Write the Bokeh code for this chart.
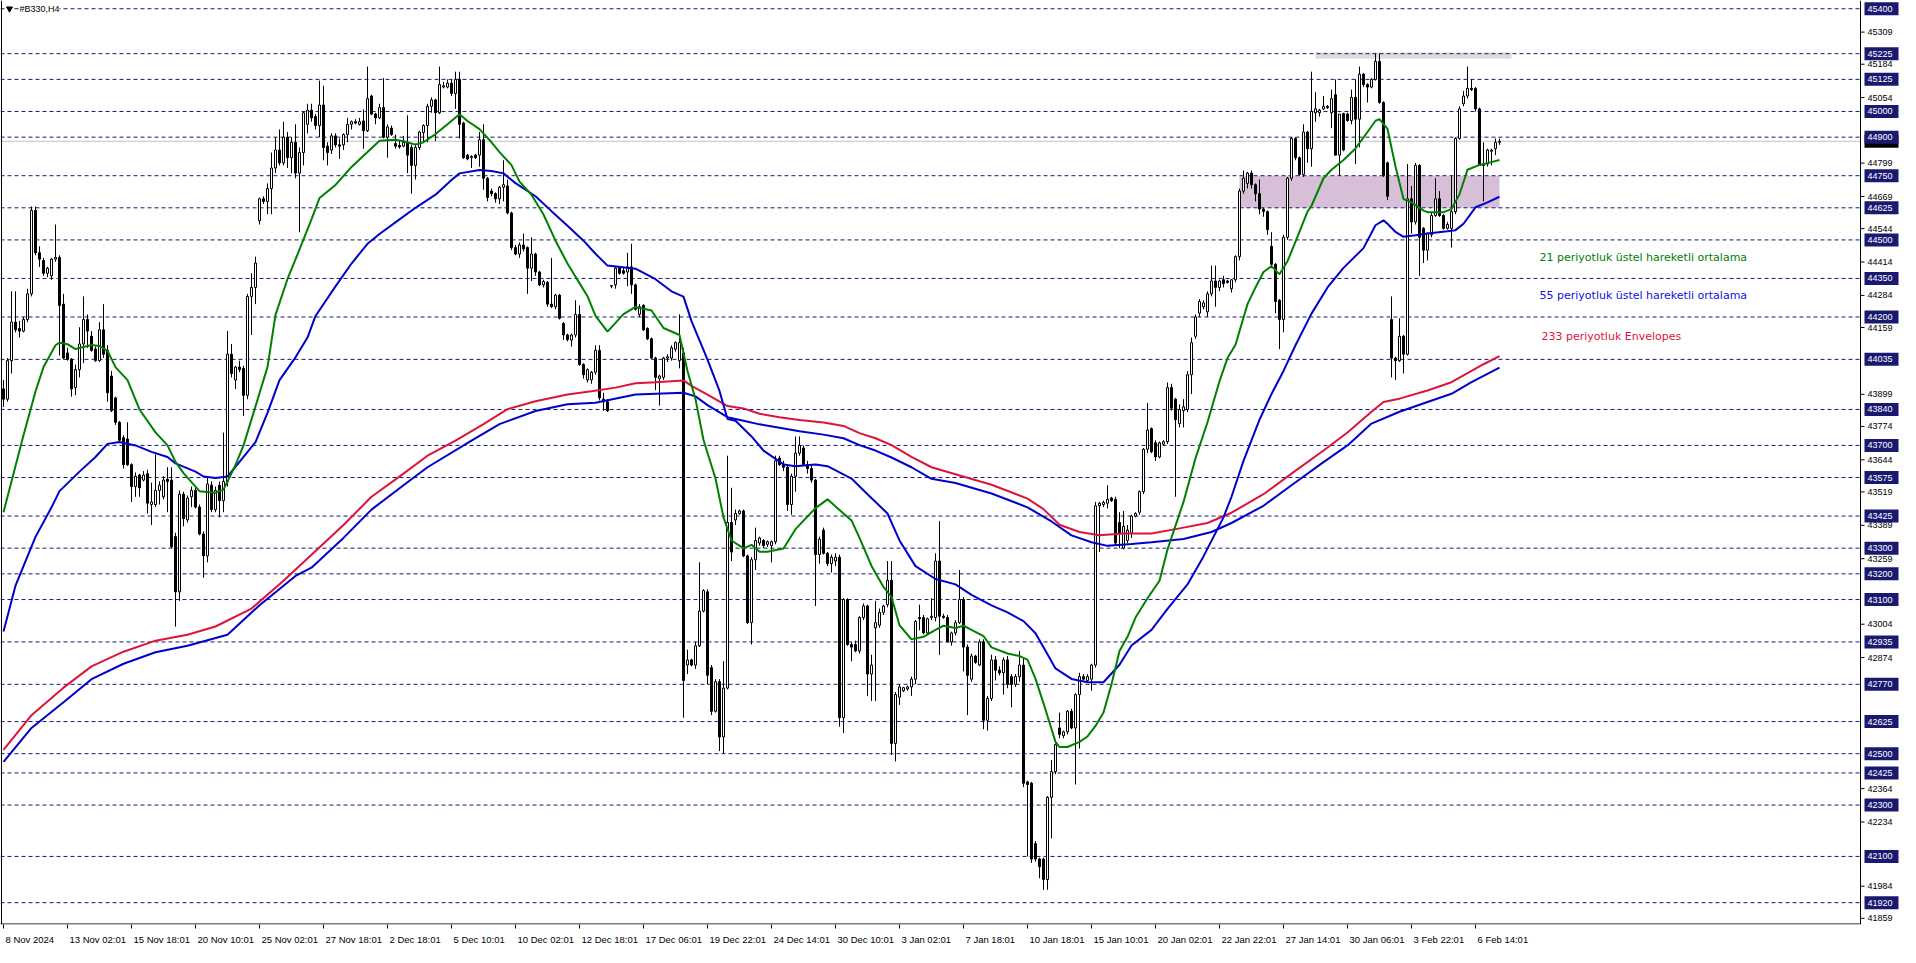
import numpy as np
from bokeh.plotting import figure
from bokeh.models import Range1d, FixedTicker, Label
from bokeh.embed import file_html
from bokeh.resources import INLINE
from bokeh.core.properties import value

# ---------------- data (H4 candles) ----------------
opens = [
    43920,43880,44030,44180,44155,44145,44190,44290,44615,44450,
    44420,44370,44360,44425,44432,44250,44060,44035,43925,43995,
    44095,44190,44125,44075,44030,44150,44070,43970,43885,43790,
    43730,43725,43625,43540,43585,43565,43590,43470,43470,43525,
    43500,43568,43565,43345,43130,43510,43410,43500,43525,43460,
    43355,43270,43545,43450,43545,43485,43560,44055,43955,44005,
    44000,43895,44280,44315,44575,44660,44650,44700,44780,44850,
    44800,44900,44820,44880,44760,44840,44950,45005,44980,44945,
    45025,44865,44850,44905,44870,44870,44910,44950,44960,44950,
    44963,44925,45060,44990,44975,45015,44900,44935,44875,44868,
    44865,44880,44860,44790,44860,44918,44945,45020,45045,44995,
    45095,45095,45110,45070,45125,44955,44830,44820,44830,44830,
    44890,44740,44690,44680,44660,44705,44710,44605,44470,44445,
    44480,44470,44390,44445,44375,44325,44335,44250,44240,44285,
    44175,44130,44110,44130,44210,44015,43955,43955,43985,44070,
    43880,43870,44320,44325,44390,44380,44375,44395,44325,44210,
    44245,44155,44115,44040,43960,43965,44040,44040,44075,44030,
    44060,42845,42865,42845,42920,43055,43130,42835,42665,42780,
    42565,42755,43400,43410,43435,43445,43270,43010,43255,43320,
    43330,43315,43310,43325,43650,43628,43615,43470,43580,43670,
    43690,43625,43610,43565,43275,43370,43280,43240,43250,43265,
    42640,43100,42925,42925,42900,43030,43075,42810,42990,43000,
    43050,43080,43175,42540,42720,42745,42752,42760,42790,43030,
    43030,42970,43030,43030,43250,43035,43030,42935,42970,43010,
    43100,42915,42790,42880,42845,42935,42630,42715,42865,42825,
    42815,42865,42800,42770,42800,42845,42390,42385,42150,42090,
    42090,42010,42330,42430,42600,42570,42585,42665,42600,42730,
    42800,42785,42790,42845,43465,43470,43475,43495,43490,43400,
    43300,43330,43360,43425,43440,43520,43685,43765,43710,43655,
    43705,43715,43925,43880,43785,43835,43840,43975,44125,44215,
    44240,44220,44290,44340,44315,44345,44340,44310,44345,44435,
    44690,44720,44760,44715,44680,44620,44610,44475,44405,44265,
    44190,44510,44740,44895,44820,44755,44920,44855,44995,44995,
    45010,45020,44995,45065,44830,44992,44990,44965,45055,44970,
    45145,45105,45095,45125,45195,45035,44800,44190,44040,44030,
    44125,44055,44660,44570,44790,44545,44460,44520,44595,44660,
    44595,44545,44545,44610,44895,45030,45060,45090,45090,45010,
    44795,44795,44845,44855,44880,
]
highs = [
    43955,44040,44300,44300,44185,44200,44310,44630,44630,44475,
    44430,44395,44430,44560,44440,44290,44080,44040,44015,44160,
    44280,44210,44145,44085,44180,44250,44090,43990,43890,43795,
    43740,43790,43630,43595,43590,43600,43605,43555,43665,43560,
    43580,43615,43615,43360,43525,43520,43505,43540,43540,43470,
    43365,43575,43560,43540,43560,43750,44145,44095,44010,44030,
    44010,44290,44370,44435,44665,44670,44720,44840,44900,44930,
    44960,44920,44900,44950,44860,45000,45030,45030,44990,45120,
    45100,44880,44915,44915,44895,44915,44975,44965,44970,44975,
    45008,45175,45065,44995,45030,45130,44950,44945,44910,44885,
    44905,44985,44870,44875,44925,44950,45030,45055,45050,45175,
    45115,45125,45125,45155,45155,44960,44835,44830,44835,44920,
    44950,44745,44700,44685,44710,44810,44735,44610,44480,44490,
    44525,44475,44510,44450,44380,44345,44340,44430,44290,44290,
    44180,44135,44135,44265,44245,44020,44000,43990,44090,44090,
    43905,43880,44325,44395,44395,44390,44450,44485,44330,44250,
    44250,44160,44120,44045,43975,44045,44055,44090,44105,44210,
    44080,42905,42870,42935,43245,43140,43140,42845,42790,42790,
    42860,43660,43535,43450,43450,43450,43275,43265,43380,43345,
    43335,43330,43330,43660,43660,43640,43620,43590,43735,43735,
    43700,43640,43620,43570,43345,43380,43285,43275,43280,43275,
    43105,43105,42935,42940,43035,43085,43080,42885,43095,43065,
    43080,43250,43250,42740,42770,42760,42765,42800,43020,43080,
    43040,43030,43105,43280,43405,43045,43040,42975,43020,43215,
    43110,42925,42890,42885,42945,42945,42725,42885,42880,42840,
    42875,42880,42810,42810,42900,42870,42395,42390,42160,42095,
    42095,42335,42475,42540,42660,42590,42670,42675,42735,42815,
    42810,42810,42850,43480,43480,43485,43545,43500,43500,43440,
    43445,43390,43430,43440,43525,43690,43865,43770,43720,43715,
    43720,43945,43940,43885,43860,43880,43990,44120,44210,44270,
    44265,44300,44400,44400,44345,44360,44345,44345,44440,44700,
    44770,44765,44770,44720,44735,44625,44615,44530,44410,44270,
    44520,44745,44900,44900,44825,44950,44925,45155,45075,45010,
    45060,45025,45085,45125,44990,44995,44995,45085,45125,45175,
    45150,45110,45130,45225,45225,45040,44805,44280,44045,44195,
    44130,44795,44710,44800,44795,44550,44530,44605,44740,44690,
    44600,44570,44750,44900,45020,45080,45175,45125,45095,45015,
    44880,44855,44855,44895,44895,
]
lows = [
    43850,43870,43980,44140,44120,44140,44180,44280,44440,44395,
    44360,44355,44345,44415,44050,44035,44030,43890,43895,43965,
    44020,44080,44065,44025,44025,44040,43870,43830,43780,43710,
    43610,43620,43480,43500,43500,43560,43435,43390,43460,43470,
    43490,43440,43300,42995,43095,43385,43400,43460,43455,43350,
    43185,43245,43440,43440,43420,43440,43540,43965,43920,43985,
    43815,43880,44130,44250,44560,44640,44600,44600,44760,44790,
    44790,44780,44760,44740,44530,44790,44915,44960,44930,44900,
    44810,44790,44835,44860,44815,44850,44880,44930,44950,44945,
    44855,44920,44985,44950,44970,44895,44820,44905,44855,44855,
    44860,44760,44680,44735,44850,44880,44880,44995,44885,44990,
    45090,45090,45060,45010,44895,44815,44810,44780,44815,44785,
    44695,44650,44670,44645,44640,44650,44600,44460,44440,44430,
    44455,44290,44340,44360,44320,44315,44240,44235,44230,44190,
    44110,44105,44085,44120,44010,43960,43945,43940,43975,43875,
    43835,43830,44312,44310,44365,44365,44320,44290,44225,44200,
    44145,44110,44035,43915,43855,43955,44025,44030,44065,44000,
    42640,42810,42840,42830,42915,43050,42770,42650,42660,42510,
    42500,42750,43250,43390,43430,43265,43005,42925,43215,43310,
    43300,43305,43245,43315,43620,43600,43445,43430,43520,43660,
    43620,43590,43555,43075,43240,43275,43230,43205,43230,42605,
    42580,42920,42860,42895,42890,43020,42725,42705,42705,42990,
    43040,43070,42495,42470,42690,42740,42745,42725,42770,42980,
    42965,42965,43020,43015,42885,43025,42935,42920,42960,43005,
    42820,42650,42780,42850,42840,42595,42590,42705,42785,42805,
    42730,42755,42680,42760,42780,42370,42100,42075,42080,42015,
    41970,41970,42170,42420,42560,42560,42575,42595,42380,42520,
    42785,42775,42745,42835,43285,43460,43455,43480,43310,43300,
    43295,43320,43340,43420,43430,43510,43670,43670,43640,43650,
    43700,43705,43835,43500,43770,43770,43830,43900,44115,44200,
    44230,44200,44280,44240,44300,44315,44330,44295,44335,44420,
    44680,44700,44700,44650,44600,44590,44520,44390,44215,44075,
    44140,44500,44730,44810,44750,44745,44800,44785,44960,44980,
    45005,45010,44935,44830,44750,44845,44960,44950,44795,44860,
    45095,45035,45090,45120,45030,44745,44655,43965,43955,44025,
    43980,44050,44525,44560,44360,44410,44420,44510,44590,44590,
    44540,44540,44470,44600,44890,45020,45050,45080,45000,44790,
    44650,44785,44790,44830,44870,
]
closes = [
    43880,44030,44180,44150,44145,44190,44290,44615,44450,44425,
    44370,44390,44425,44432,44245,44040,44035,43920,43995,44095,
    44190,44145,44070,44030,44150,44055,43905,43835,43790,43720,
    43625,43625,43540,43580,43535,43585,43475,43480,43525,43545,
    43565,43560,43305,43130,43510,43415,43495,43525,43460,43355,
    43270,43550,43450,43525,43485,43560,44055,43980,44005,43995,
    43895,44280,44315,44410,44660,44650,44700,44780,44850,44800,
    44900,44820,44880,44760,44840,44995,45005,44975,44945,45025,
    44860,44840,44905,44870,44865,44910,44950,44960,44955,44960,
    44925,45050,44990,44975,45015,44900,44940,44910,44865,44862,
    44880,44830,44790,44860,44920,44945,45020,45045,44995,45105,
    45100,45110,45070,45125,44950,44820,44815,44825,44820,44890,
    44740,44665,44680,44660,44705,44715,44605,44470,44445,44480,
    44465,44390,44445,44375,44325,44338,44250,44240,44285,44195,
    44130,44112,44130,44210,44015,43975,43995,43985,44070,43885,
    43870,43835,44322,44390,44370,44370,44395,44325,44230,44240,
    44150,44115,44040,43965,43970,44040,44045,44080,44100,44100,
    42785,42865,42845,42920,43055,43135,42805,42665,42780,42565,
    42755,43400,43285,43435,43445,43270,43010,43255,43330,43340,
    43310,43325,43325,43640,43625,43615,43470,43580,43670,43700,
    43625,43610,43565,43275,43335,43280,43240,43265,43265,42640,
    43100,42925,42915,42900,43030,43075,42810,42845,43010,43050,
    43075,43175,42540,42730,42760,42757,42760,42790,43015,43025,
    42970,43025,43035,43250,43035,43030,42935,42970,43010,43100,
    42915,42805,42880,42855,42935,42630,42715,42865,42825,42815,
    42865,42770,42770,42800,42845,42385,42380,42090,42090,42060,
    42010,42330,42430,42535,42575,42585,42665,42600,42730,42800,
    42790,42800,42845,43465,43475,43478,43490,43485,43320,43355,
    43385,43370,43425,43435,43520,43685,43760,43675,43655,43710,
    43715,43925,43845,43800,43840,43850,43975,44100,44200,44260,
    44255,44290,44340,44315,44340,44330,44335,44345,44435,44690,
    44740,44760,44715,44680,44620,44610,44540,44405,44260,44190,
    44510,44740,44895,44820,44755,44920,44855,45000,45010,45005,
    45020,45015,45050,44830,44990,44850,44965,45055,44970,45145,
    45105,45095,45125,45195,45035,44750,44670,44040,44030,44125,
    44055,44660,44570,44790,44510,44460,44525,44595,44660,44595,
    44545,44560,44610,44895,45010,45060,45090,45085,45010,44790,
    44790,44850,44850,44880,44884,
]

# 21-period EMA (green), read at bar indices
ema21_idx = [0,3,5,8,10,13,14,16,18,22,24,26,28,31,34,38,41,43,45,49,53,55,58,60,63,66,68,71,73,77,
             79,83,87,91,94,98,100,103,105,108,111,114,116,119,122,124,127,129,132,135,138,141,143,146,148,151,
             155,158,162,165,169,171,173,175,178,180,182,185,187,189,191,195,198,203,206,209,212,214,217,220,222,
             224,227,230,233,235,238,240,242,245,247,251,254,256,258,260,263,264,266,269,271,273,275,277,279,281,
             283,286,289,291,295,298,301,304,306,308,311,313,315,317,319,321,323,326,327,330,332,335,338,341,343,
             344,346,348,350,352,355,356,360,362,364,366,369,371,374]
ema21_val = [43440,43620,43740,43910,44005,44090,44100,44094,44075,44091,44087,44068,44005,43954,43840,43751,43700,43636,43592,43522,43516,43528,43624,43700,43852,44005,44208,44348,44424,44580,
             44663,44714,44784,44842,44886,44890,44884,44871,44880,44912,44950,44989,44963,44931,44880,44842,44791,44727,44676,44599,44497,44408,44357,44281,44204,44143,
             44211,44239,44225,44157,44130,43990,43880,43721,43571,43420,43330,43299,43313,43286,43286,43299,43374,43456,43490,43449,43408,43340,43231,43149,43110,
             43000,42945,42955,42982,42998,42989,42998,42982,42958,42914,42890,42880,42866,42791,42696,42546,42526,42526,42546,42567,42608,42660,42770,42900,42955,
             43030,43105,43173,43295,43480,43650,43790,43950,44040,44092,44250,44315,44375,44398,44366,44417,44493,44610,44633,44740,44773,44811,44856,44920,44964,
             44970,44932,44786,44659,44646,44614,44608,44608,44620,44678,44773,44792,44799,44811]

# 55-period EMA (blue)
ema55_idx = [0,3,8,12,14,19,23,26,29,33,37,41,43,48,50,53,56,59,63,66,69,73,76,78,83,87,91,94,99,103,
             108,112,114,119,122,125,128,133,137,141,145,148,151,158,163,167,170,172,176,179,181,183,187,190,195,
             198,203,206,212,216,221,224,228,233,238,242,247,251,255,258,261,263,267,271,275,279,282,287,291,296,
             300,305,307,310,314,317,320,323,327,331,335,340,343,345,346,348,350,353,356,361,363,365,368,371,374]
ema55_val = [42976,43154,43344,43459,43522,43598,43655,43706,43713,43700,43675,43655,43630,43598,43579,43573,43579,43636,43713,43827,43954,44043,44120,44204,44319,44408,44485,44523,44580,44625,
             44676,44733,44759,44772,44768,44759,44721,44670,44612,44555,44497,44446,44400,44388,44347,44300,44279,44184,44034,43912,43803,43796,43735,43680,43626,
             43619,43626,43619,43571,43510,43435,43330,43230,43180,43159,43118,43077,43050,43016,42969,42887,42832,42791,42778,42778,42846,42921,42982,43064,43159,
             43268,43420,43500,43640,43800,43900,43990,44090,44213,44315,44391,44468,44557,44576,44563,44531,44512,44518,44525,44534,44538,44563,44627,44646,44668]

# 233-period Envelopes: upper (red) and lower (blue)
env_up_idx = [0,7,15,22,30,38,46,53,62,70,77,85,92,100,106,113,120,126,133,141,147,153,158,163,170,172,176,181,185,189,
              194,199,205,210,214,218,222,227,232,238,247,256,260,264,269,274,280,287,294,301,307,315,322,330,336,342,345,349,356,362,
              367,370,374]
env_up_val = [42515,42650,42757,42840,42897,42940,42963,42995,43065,43173,43274,43390,43500,43590,43660,43719,43783,43841,43872,43898,43911,43925,43942,43946,43953,43932,43898,43853,43844,43823,
              43810,43799,43789,43776,43748,43728,43701,43655,43615,43588,43547,43493,43452,43391,43363,43350,43357,43357,43377,43398,43438,43510,43590,43680,43750,43831,43869,43882,43914,43946,
              43990,44016,44048]
env_dn_idx = [0,7,15,22,30,38,46,56,64,73,77,85,92,100,106,117,124,133,141,148,158,170,173,176,181,185,189,194,199,205,
              210,214,218,222,227,232,238,247,256,262,267,272,276,282,287,295,302,307,315,322,330,336,342,349,356,362,367,374]
env_dn_val = [42468,42600,42700,42790,42850,42895,42920,42963,43078,43192,43224,43340,43450,43545,43615,43719,43783,43834,43860,43866,43898,43905,43891,43857,43810,43796,43782,43769,43755,43742,
              43728,43701,43680,43653,43615,43570,43554,43513,43459,43404,43350,43323,43309,43316,43323,43336,43363,43398,43465,43545,43635,43700,43785,43831,43869,43901,43946,44003]

# horizontal levels (drawn lines, labelled on the price scale)
level_values = [45400,45225,45125,45000,44900,44750,44625,44500,44350,44200,44035,43840,43700,43575,
                43425,43300,43200,43100,42935,42770,42625,42500,42425,42300,42100,41920]
# automatic price-scale ticks
axis_ticks = [45309,45184,45054,44799,44669,44544,44414,44284,44159,43899,43774,43644,43519,
              43389,43259,43004,42874,42364,42234,41984,41859]
# time-scale labels (every 16 bars)
tick_labels = ["8 Nov 2024","13 Nov 02:01","15 Nov 18:01","20 Nov 10:01","25 Nov 02:01","27 Nov 18:01",
               "2 Dec 18:01","5 Dec 10:01","10 Dec 02:01","12 Dec 18:01","17 Dec 06:01","19 Dec 22:01",
               "24 Dec 14:01","30 Dec 10:01","3 Jan 02:01","7 Jan 18:01","10 Jan 18:01","15 Jan 10:01",
               "20 Jan 02:01","22 Jan 22:01","27 Jan 14:01","30 Jan 06:01","3 Feb 22:01","6 Feb 14:01"]
tick_idx = [16 * k for k in range(len(tick_labels))]

# zones
zone_left, zone_right, zone_low, zone_high = 309, 374, 44625, 44750
top_left, top_right, top_low, top_high = 328, 377, 45205, 45230

legend_texts = ["21 periyotluk üstel hareketli ortalama",
                "55 periyotluk üstel hareketli ortalama",
                "233 periyotluk Envelopes"]
legend_colors = ["#008000", "#1010E0", "#DC143C"]
legend_y = [44432, 44283, 44125]
legend_x = [384, 384, 384.5]

title_text = "#B330,H4"

# ---------------- layout constants ----------------
N = len(closes)
assert len(opens) == N and len(highs) == N and len(lows) == N, (len(opens), len(highs), len(lows), N)

NAVY = "#191970"
W, H = 1900, 947
BOTTOM = 22                 # height of the time scale
FRAME_W = W                 # chart + price scale share the frame
CHART_W = 1860              # chart part (price scale to the right)
PX_BAR = 4.0                # pixels per H4 bar
X0 = -0.75
X_END = X0 + FRAME_W / PX_BAR
CHART_END = X0 + CHART_W / PX_BAR
Y0, Y1 = 41835, 45432
AXIS_FONT = "Liberation Sans"

p = figure(width=W, height=H, output_backend="svg", toolbar_location=None,
           x_range=Range1d(X0, X_END), y_range=Range1d(Y0, Y1), y_axis_location=None,
           min_border_left=0, min_border_top=0, min_border_right=0, min_border_bottom=BOTTOM,
           background_fill_color="white", border_fill_color="white")
p.grid.visible = False
p.outline_line_color = None

# zones (background)
p.quad(left=[zone_left], right=[zone_right], bottom=[zone_low], top=[zone_high],
       fill_color="#D8BFD8", line_color=None)
p.quad(left=[top_left], right=[top_right], bottom=[top_low], top=[top_high],
       fill_color="#DCDCDC", line_color=None)

# level lines (end at the price scale)
nlev = len(level_values)
p.segment(x0=[X0] * nlev, x1=[CHART_END] * nlev, y0=level_values, y1=level_values,
          line_color=NAVY, line_width=1, line_dash="4 3")
# bid line
p.segment(x0=[X0], x1=[CHART_END], y0=[closes[-1]], y1=[closes[-1]], line_color="#C0C0C0", line_width=1)

# candles
idx = np.arange(N)
o = np.array(opens, dtype=float); c = np.array(closes, dtype=float)
h = np.array(highs, dtype=float); l = np.array(lows, dtype=float)
up = c >= o
p.segment(idx, h, idx, l, line_color="black", line_width=1)
p.vbar(x=idx[up], width=0.5, bottom=o[up], top=c[up], fill_color="white", line_color="black", line_width=1)
p.vbar(x=idx[~up], width=0.5, bottom=c[~up], top=o[~up], fill_color="black", line_color="black", line_width=1)

# indicators
p.line(env_up_idx, env_up_val, line_color="#DC143C", line_width=2)
p.line(env_dn_idx, env_dn_val, line_color="#0000CD", line_width=2)
p.line(ema55_idx, ema55_val, line_color="#0000CD", line_width=2)
p.line(ema21_idx, ema21_val, line_color="#008000", line_width=2)

# indicator captions
p.text(x=legend_x, y=legend_y, text=legend_texts, text_color=legend_colors,
       text_font=value("DejaVu Sans"), text_font_size="11px", text_baseline="middle", text_align="left")

# title
p.scatter([1.5], [level_values[0]], marker="inverted_triangle", size=6, color="black")
p.add_layout(Label(x=4.0, y=level_values[0], text=title_text, text_font=AXIS_FONT,
                   text_font_size="9px", text_color="black", text_baseline="middle",
                   background_fill_color="white"))

# chart borders (left edge, price-scale edge, bottom edge of the chart)
p.vspan(x=[X0 + 0.125, CHART_END], line_color="black", line_width=1)
p.segment(x0=[X0], x1=[CHART_END], y0=[Y0 + 2], y1=[Y0 + 2], line_color="black", line_width=1)

# ---------------- price scale (right) ----------------
nt = len(axis_ticks)
p.segment(x0=[CHART_END] * nt, x1=[CHART_END + 1.0] * nt, y0=axis_ticks, y1=axis_ticks,
          line_color="black", line_width=1)
p.text(x=[CHART_END + 1.75] * nt, y=axis_ticks, text=[str(t) for t in axis_ticks],
       text_font=value(AXIS_FONT), text_font_size="9px", text_color="black",
       text_baseline="middle", text_align="left")
# bid price box (mostly hidden under the 44900 label)
box_cx = CHART_END + (4 + 17) / PX_BAR
p.rect(x=[box_cx], y=[closes[-1]], width=34, height=13, width_units="screen", height_units="screen",
       fill_color="black", line_color=None)
# highlighted level labels
p.rect(x=[box_cx] * nlev, y=level_values, width=34, height=13, width_units="screen", height_units="screen",
       fill_color=NAVY, line_color=None)
p.text(x=[CHART_END + 7 / PX_BAR] * nlev, y=level_values, text=[str(v) for v in level_values],
       text_font=value(AXIS_FONT), text_font_size="9px", text_color="white",
       text_baseline="middle", text_align="left")

# ---------------- time scale (bottom) ----------------
# labels start at their tick (MT4 style): centre each label half its width to the right
CW = {" ": 278, ":": 278, "N": 722, "D": 722, "J": 500, "F": 611, "o": 556, "v": 500,
      "e": 556, "c": 500, "a": 556, "n": 556, "b": 556}
XFONT = 9.5
def text_w(s):
    return sum(CW.get(ch, 556) for ch in s) * XFONT / 1000.0
label_pos = [t + (text_w(s) / 2 + 2) / PX_BAR for t, s in zip(tick_idx, tick_labels)]
p.xaxis.ticker = FixedTicker(ticks=label_pos, minor_ticks=tick_idx)
p.xaxis.major_label_overrides = {lp: s for lp, s in zip(label_pos, tick_labels)}
p.xaxis.major_label_text_font = AXIS_FONT
p.xaxis.major_label_text_font_size = f"{XFONT}px"
p.xaxis.major_label_text_color = "black"
p.xaxis.major_tick_line_color = None
p.xaxis.minor_tick_line_color = "black"
p.xaxis.minor_tick_in = 0
p.xaxis.minor_tick_out = 4
p.xaxis.major_label_standoff = 3
p.xaxis.axis_line_color = None

open("out.html", "w", encoding="utf-8").write(file_html(p, INLINE, "B330 H4"))
